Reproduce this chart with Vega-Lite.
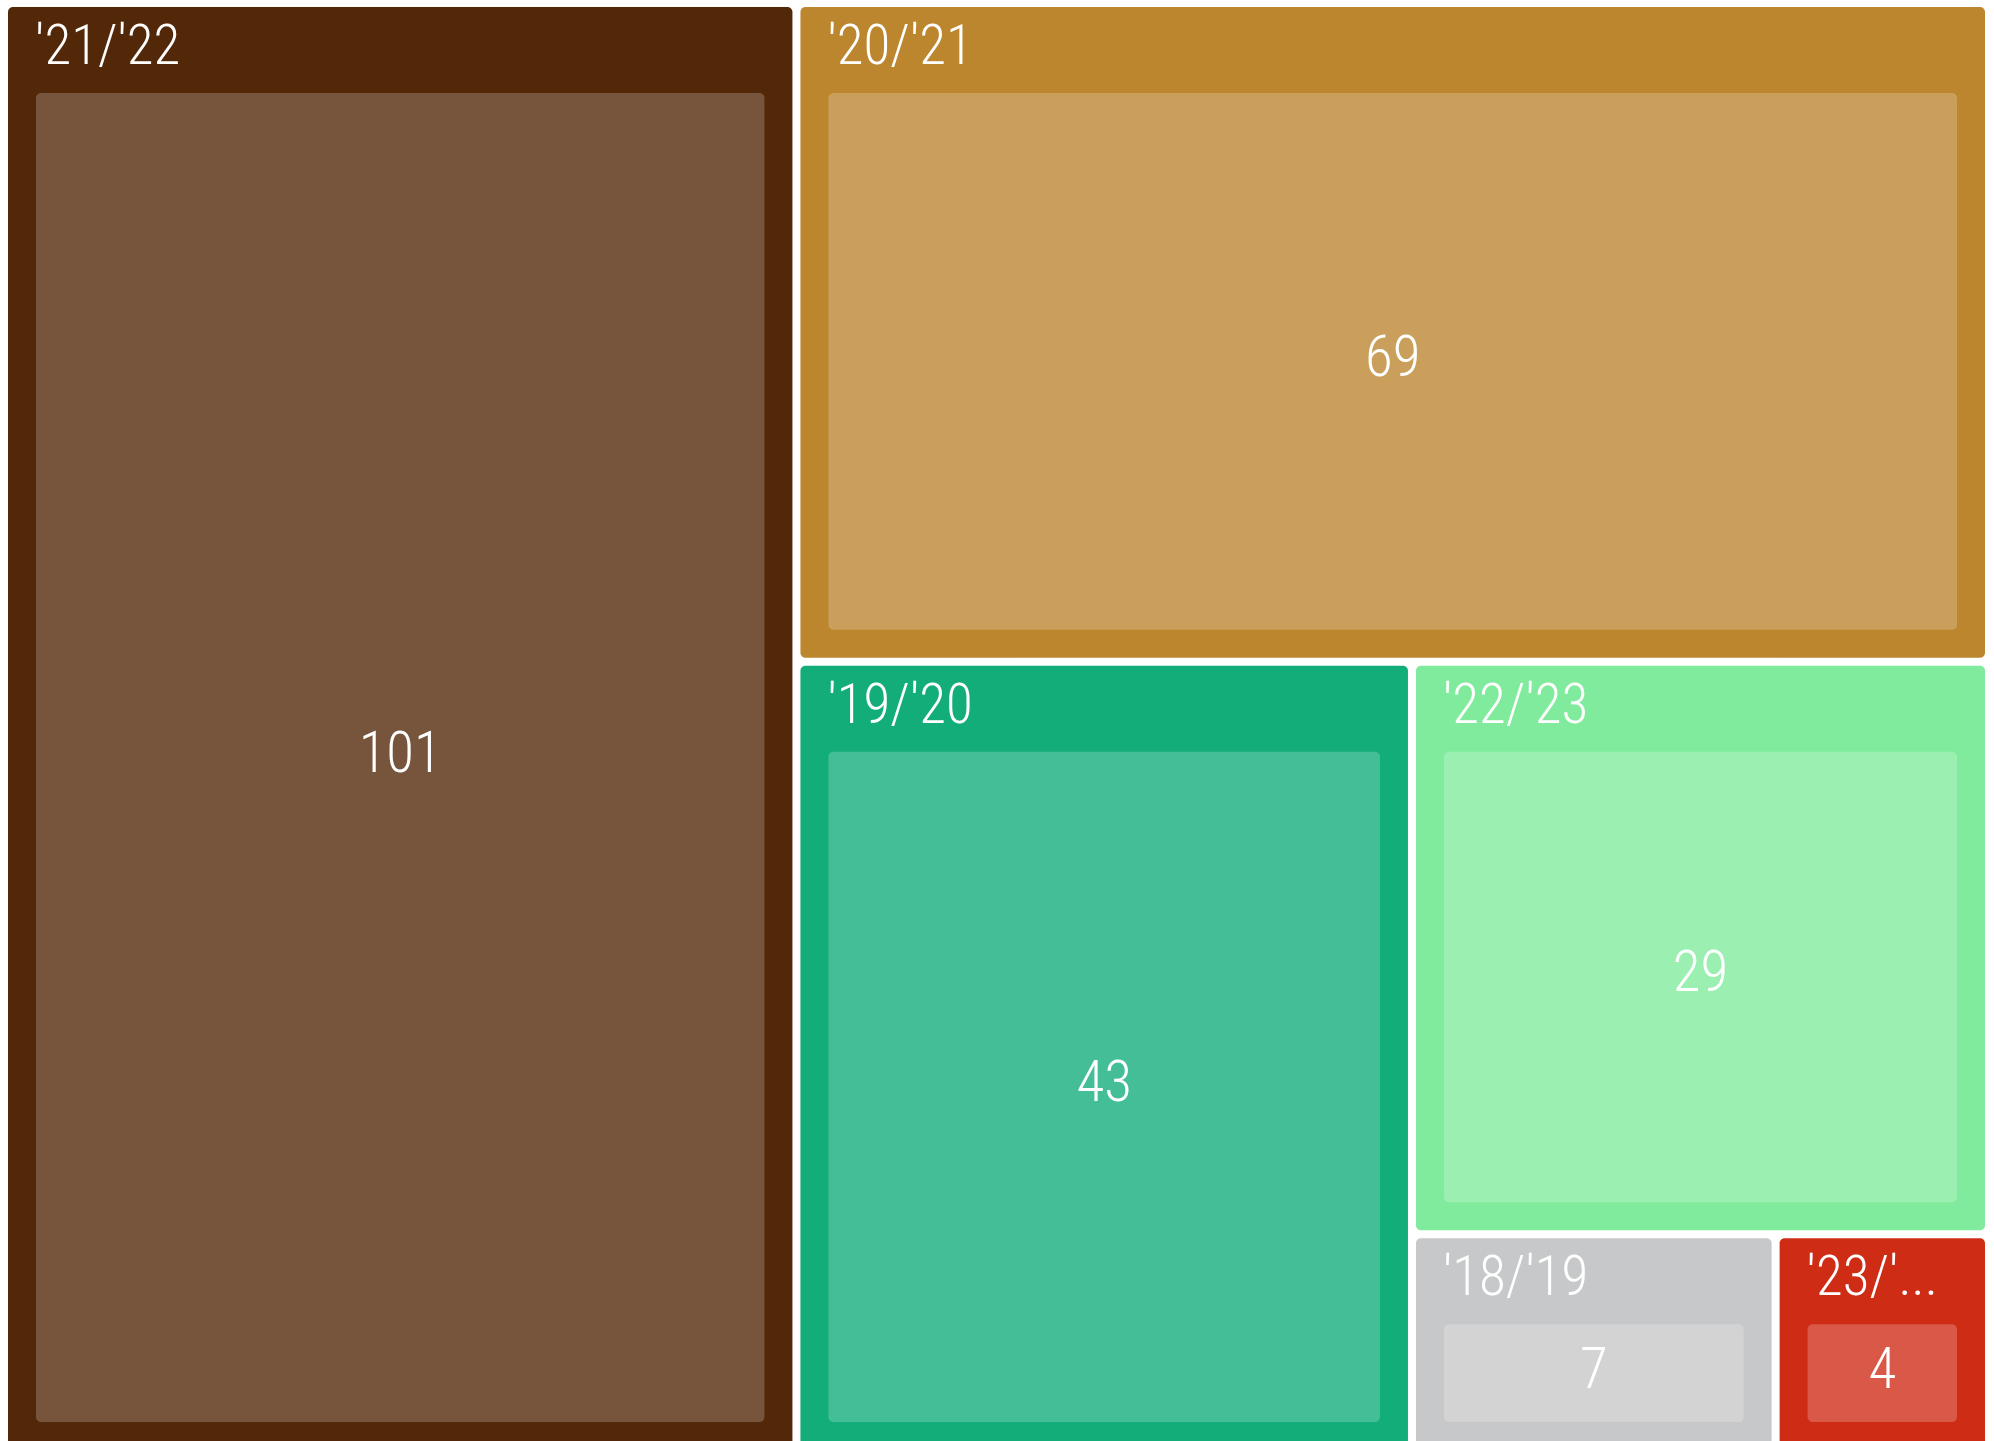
{
  "$schema": "https://vega.github.io/schema/vega-lite/v6.json",
  "width": 1985,
  "height": 1451,
  "autosize": {"type": "none"},
  "padding": {"left": 4, "top": 3, "right": 5, "bottom": 0},
  "background": "#ffffff",
  "config": {"view": {"stroke": null}},
  "data": {
    "values": [
      {"label": "'21/'22", "value": 101, "x0": 0, "x1": 0.39921, "y0": 0, "y1": 1, "cx": 0.199605, "cy": 0.5},
      {"label": "'20/'21", "value": 69, "x0": 0.39921, "x1": 1, "y0": 0, "y1": 0.45395, "cx": 0.699605, "cy": 0.226975},
      {"label": "'19/'20", "value": 43, "x0": 0.39921, "x1": 0.7093, "y0": 0.45395, "y1": 1, "cx": 0.554255, "cy": 0.726975},
      {"label": "'22/'23", "value": 29, "x0": 0.7093, "x1": 1, "y0": 0.45395, "y1": 0.8485, "cx": 0.85465, "cy": 0.651225},
      {"label": "'18/'19", "value": 7, "x0": 0.7093, "x1": 0.8925, "y0": 0.8485, "y1": 1, "cx": 0.8009, "cy": 0.92425},
      {"label": "'23/'24", "value": 4, "x0": 0.8925, "x1": 1, "y0": 0.8485, "y1": 1, "cx": 0.94625, "cy": 0.92425}
    ]
  },
  "layer": [
    {
      "mark": {"type": "rect", "cornerRadius": 5, "xOffset": 4, "x2Offset": -4, "yOffset": 4, "y2Offset": -4},
      "encoding": {
        "x": {"field": "x0", "type": "quantitative", "scale": {"domain": [0, 1], "nice": false, "zero": false}, "axis": null},
        "x2": {"field": "x1"},
        "y": {"field": "y0", "type": "quantitative", "scale": {"domain": [0, 1], "nice": false, "zero": false, "reverse": true}, "axis": null},
        "y2": {"field": "y1"},
        "color": {
          "field": "label",
          "type": "nominal",
          "legend": null,
          "scale": {
            "domain": ["'21/'22", "'20/'21", "'19/'20", "'22/'23", "'18/'19", "'23/'24"],
            "range": ["#532808", "#BC862F", "#13AD7A", "#80EB9C", "#C7C8C9", "#CF2C16"]
          }
        }
      }
    },
    {
      "mark": {"type": "rect", "cornerRadius": 5, "fill": "#ffffff", "fillOpacity": 0.21, "xOffset": 32, "x2Offset": -32, "yOffset": 90, "y2Offset": -32},
      "encoding": {
        "x": {"field": "x0", "type": "quantitative"},
        "x2": {"field": "x1"},
        "y": {"field": "y0", "type": "quantitative"},
        "y2": {"field": "y1"}
      }
    },
    {
      "mark": {"type": "text", "align": "left", "baseline": "alphabetic", "font": "'Roboto Condensed', Roboto", "fontWeight": 300, "fontSize": 55, "color": "#ffffff", "xOffset": 31, "yOffset": 61, "ellipsis": "...", "limit": {"expr": "(datum.x1 - datum.x0) * width - 76"}},
      "encoding": {
        "x": {"field": "x0", "type": "quantitative"},
        "y": {"field": "y0", "type": "quantitative"},
        "text": {"field": "label"}
      }
    },
    {
      "mark": {"type": "text", "align": "center", "baseline": "alphabetic", "font": "'Roboto Condensed', Roboto", "fontWeight": 300, "fontSize": 57, "color": "#ffffff", "yOffset": 43.5},
      "encoding": {
        "x": {"field": "cx", "type": "quantitative"},
        "y": {"field": "cy", "type": "quantitative"},
        "text": {"field": "value", "type": "quantitative"}
      }
    }
  ]
}
